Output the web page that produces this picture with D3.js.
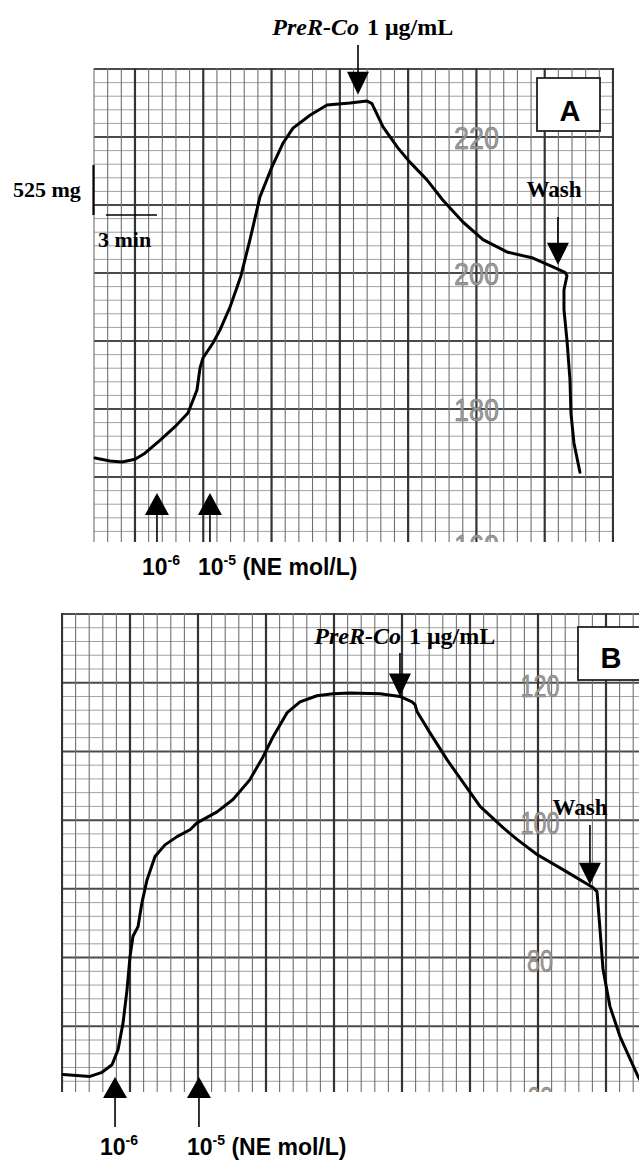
<!DOCTYPE html>
<html><head><meta charset="utf-8">
<script src="https://cdn.jsdelivr.net/npm/d3@7"></script>
<style>html,body{margin:0;padding:0;background:#fff;overflow:hidden} svg{display:block}</style>
</head><body>
<script>
// ---- Data (chart divisions on x, recorder scale on y) ----
const timeA = [-2.93,-1.83,-0.95,0.0,0.73,1.83,2.93,3.88,4.54,4.76,4.98,5.71,6.22,6.96,7.40,7.76,8.42,9.15,10.03,10.84,11.57,12.81,14.06,15.74,16.99,17.35,18.16,19.25,20.13,21.38,22.55,24.01,25.48,27.23,29.14,30.60,31.48,31.63,31.41,31.41,31.63,31.85,31.92,32.14,32.58];
const tensionA = [172.8,172.35,172.2,172.6,173.5,175.4,177.4,179.4,182.8,186.0,187.5,189.7,191.6,195.0,197.5,199.6,204.9,211.2,215.6,219.1,221.3,223.2,224.7,225.0,225.3,224.9,221.5,218.4,216.3,213.7,210.7,207.5,204.9,203.1,202.2,200.9,200.1,199.6,197.5,194.6,190.1,184.3,179.4,175.0,170.7];
const timeB = [0.07,2.06,2.94,3.68,4.12,4.49,4.78,5.0,5.22,5.59,5.88,6.25,6.84,7.57,8.46,9.41,9.93,11.40,12.57,13.82,14.78,15.51,16.54,17.50,18.75,19.93,21.18,23.38,24.85,25.74,25.96,26.10,27.06,28.31,29.49,30.74,32.43,33.46,34.93,36.84,39.04,39.34,39.56,39.78,40.29,41.03,42.35,43.09];
const tensionB = [63.0,62.7,63.3,64.4,66.6,70.5,75.3,80.1,83.1,84.5,88.0,91.3,94.7,96.4,97.6,98.6,99.6,101.2,103.0,105.9,109.2,112.1,115.6,117.2,118.1,118.4,118.5,118.4,118.0,117.2,116.8,115.8,112.7,108.8,105.5,102.0,98.9,97.2,95.0,92.8,90.2,89.6,84.1,78.3,72.9,68.5,62.7,60.1];
const chartLabelsA = [220, 200, 180, 160];
const chartLabelsB = [120, 100, 80, 60];
const neTimesA = [1.61, 5.49];
const neTimesB = [3.90, 10.07];
const neLabels = ["-6", "-5"];
const preRCoTime = [16.33, 24.85];
const preRCoTip = [226.2, 118.0];
const washTime = [30.97, 38.82];
const washTip = [201.2, 90.6];
const panelLetters = ["A", "B"];

const W = 639, H = 1162;
const svg = d3.select("body").append("svg").attr("width", W).attr("height", H);
const serif = "'Liberation Serif','Times New Roman',serif";
const sans = "'Liberation Sans',Arial,sans-serif";

const panels = [
  { id:"A", time:timeA, tension:tensionA, labels:chartLabelsA, ne:neTimesA,
    xDom:[-3,35], xRange:[94,613], yDom:[160,230], yRange:[545,69],
    box:{x0:94,x1:613,y0:68,y1:542}, labelCol:25, pre:0,
    neTip:493, neBase:515, neStemEnd:542, neTextY:575, neTextX:[142,198],
    preStemTop:45, preTextY:35, washStemTop:217, washTextDx:-4, washTextY:197,
    letterBox:{x:537,y:78,w:63,h:53}, letterY:121, letterX:570 },
  { id:"B", time:timeB, tension:tensionB, labels:chartLabelsB, ne:neTimesB,
    xDom:[0,43], xRange:[62,646.8], yDom:[60,130], yRange:[1095,614],
    box:{x0:62,x1:639,y0:613,y1:1092}, labelCol:35, pre:1,
    neTip:1077, neBase:1098, neStemEnd:1127, neTextY:1155, neTextX:[100,187],
    preStemTop:653, preTextY:644, washStemTop:825, washTextDx:-10, washTextY:815,
    letterBox:{x:578,y:627,w:80,h:53}, letterY:668, letterX:611 }
];

panels.forEach((p, pi) => {
  const x = d3.scaleLinear().domain(p.xDom).range(p.xRange);
  const y = d3.scaleLinear().domain(p.yDom).range(p.yRange);
  const b = p.box;
  const clipId = "clip" + p.id;
  svg.append("clipPath").attr("id", clipId).append("rect")
    .attr("x", b.x0 - 1).attr("y", b.y0 - 1).attr("width", b.x1 - b.x0 + 2).attr("height", b.y1 - b.y0 + 1);
  const g = svg.append("g").attr("clip-path", `url(#${clipId})`);

  // horizontal grid
  const hv = d3.range(p.yDom[0], p.yDom[1] + 0.001, 2);
  g.selectAll("line.h").data(hv).join("line")
    .attr("x1", b.x0).attr("x2", b.x1)
    .attr("y1", d => y(d)).attr("y2", d => y(d))
    .attr("stroke", d => d % 10 === 0 ? "#4a4a4a" : "#a0a0a0")
    .attr("stroke-width", d => d % 10 === 0 ? 2 : 1);
  // vertical grid
  const vv = d3.range(Math.ceil(p.xDom[0]), Math.floor(p.xDom[1]) + 1, 1);
  g.selectAll("line.v").data(vv).join("line")
    .attr("x1", d => x(d)).attr("x2", d => x(d))
    .attr("y1", b.y0).attr("y2", b.y1)
    .attr("stroke", d => d % 5 === 0 ? "#333" : "#707070")
    .attr("stroke-width", d => d % 5 === 0 ? 2.2 : 1.1);

  // gray printed scale numbers
  g.selectAll("text.lab").data(p.labels).join("text")
    .attr("x", x(p.labelCol) + (p.id === "B" ? 2 : 0)).attr("y", d => y(d) + (p.id === "B" ? 3 : 1))
    .attr("text-anchor", "middle").attr("dominant-baseline", "central")
    .attr("font-family", sans).attr("font-size", 32)
    .attr("textLength", d => String(d).length * (p.id === "A" ? 15 : 13))
    .attr("lengthAdjust", "spacingAndGlyphs")
    .attr("fill", "#9a9a9a").attr("stroke", "#7a7a7a").attr("stroke-width", 0.6)
    .text(d => d);

  // trace
  const pts = p.time.map((t, i) => [t, p.tension[i]]);
  svg.append("path").datum(pts)
    .attr("d", d3.line().x(d => x(d[0])).y(d => y(d[1])).curve(d3.curveLinear))
    .attr("fill", "none").attr("stroke", "#000").attr("stroke-width", 3)
    .attr("stroke-linejoin", "round").attr("stroke-linecap", "round");

  // helper: down arrow
  function downArrow(ax, tipY, stemTop, headH) {
    svg.append("line").attr("x1", ax).attr("x2", ax).attr("y1", stemTop).attr("y2", tipY - headH + 2)
      .attr("stroke", "#000").attr("stroke-width", 1.6);
    svg.append("path").attr("d", `M${ax-11},${tipY-headH}L${ax+11},${tipY-headH}L${ax},${tipY}Z`).attr("fill", "#000");
  }
  function upArrow(ax, tipY, baseY, stemEnd) {
    svg.append("line").attr("x1", ax).attr("x2", ax).attr("y1", baseY - 2).attr("y2", stemEnd)
      .attr("stroke", "#000").attr("stroke-width", 1.6);
    svg.append("path").attr("d", `M${ax-12},${baseY}L${ax+12},${baseY}L${ax},${tipY}Z`).attr("fill", "#000");
  }

  // PreR-Co
  const px = x(preRCoTime[p.pre]);
  const ptip = y(preRCoTip[p.pre]);
  downArrow(px, ptip, p.preStemTop, 23);
  svg.append("text").attr("x", px + 1).attr("y", p.preTextY).attr("text-anchor", "end")
    .attr("font-family", serif).attr("font-weight", "bold").attr("font-style", "italic").attr("font-size", 24)
    .text("PreR-Co");
  svg.append("text").attr("x", px + 9).attr("y", p.preTextY).attr("text-anchor", "start")
    .attr("font-family", serif).attr("font-weight", "bold").attr("font-size", 24)
    .text("1 μg/mL");

  // Wash
  const wx = x(washTime[p.pre]);
  const wtip = y(washTip[p.pre]);
  downArrow(wx, wtip, p.washStemTop, 22);
  svg.append("text").attr("x", wx + p.washTextDx).attr("y", p.washTextY).attr("text-anchor", "middle")
    .attr("font-family", serif).attr("font-weight", "bold").attr("font-size", 23)
    .text("Wash");

  // NE doses
  p.ne.forEach((t, i) => upArrow(x(t), p.neTip, p.neBase, p.neStemEnd));
  neLabels.forEach((s, i) => {
    const t = svg.append("text").attr("x", p.neTextX[i]).attr("y", p.neTextY)
      .attr("font-family", sans).attr("font-weight", "bold").attr("font-size", 23);
    t.append("tspan").text("10");
    t.append("tspan").attr("dy", -10).attr("font-size", 14).text(s);
    if (i === 1) t.append("tspan").attr("dy", 10).text(" (NE mol/L)");
  });

  // letter box
  const lb = p.letterBox;
  svg.append("rect").attr("x", lb.x).attr("y", lb.y).attr("width", lb.w).attr("height", lb.h)
    .attr("fill", "#fff").attr("stroke", "#222").attr("stroke-width", 1.8);
  svg.append("text").attr("x", p.letterX).attr("y", p.letterY).attr("text-anchor", "middle")
    .attr("font-family", sans).attr("font-weight", "bold").attr("font-size", 29)
    .text(panelLetters[pi]);
});

// Scale bars (panel A)
svg.append("line").attr("x1", 93.5).attr("x2", 93.5).attr("y1", 165).attr("y2", 215)
  .attr("stroke", "#000").attr("stroke-width", 2.2);
svg.append("text").attr("x", 13).attr("y", 197)
  .attr("font-family", serif).attr("font-weight", "bold").attr("font-size", 22).text("525 mg");
svg.append("line").attr("x1", 106).attr("x2", 157).attr("y1", 215).attr("y2", 215)
  .attr("stroke", "#000").attr("stroke-width", 1.6);
svg.append("text").attr("x", 98).attr("y", 247)
  .attr("font-family", serif).attr("font-weight", "bold").attr("font-size", 22).text("3 min");
</script>
</body></html>
